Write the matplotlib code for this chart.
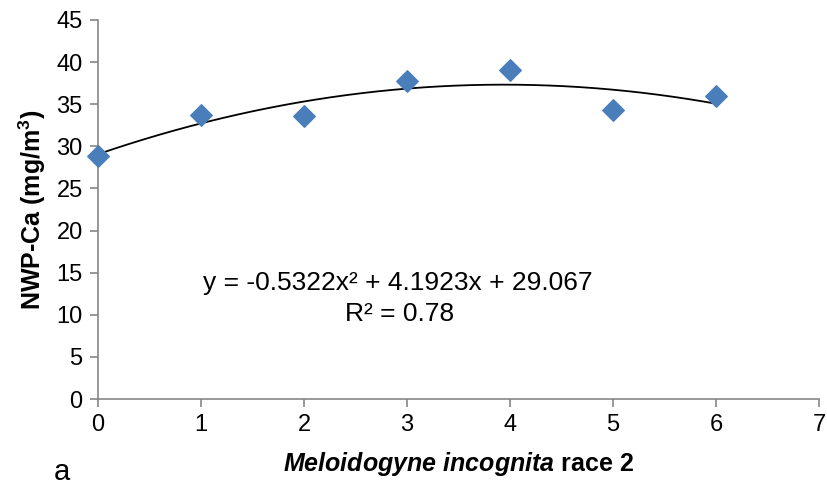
import numpy as np
import matplotlib.pyplot as plt

plt.rcParams['font.family'] = ['Liberation Sans', 'DejaVu Sans']
plt.rcParams['mathtext.fontset'] = 'custom'
plt.rcParams['mathtext.rm'] = 'Liberation Sans'
plt.rcParams['mathtext.it'] = 'Liberation Sans:italic'
plt.rcParams['mathtext.bf'] = 'Liberation Sans:bold'
plt.rcParams['mathtext.bfit'] = 'Liberation Sans:bold:italic'

# data
race_level = [0, 1, 2, 3, 4, 5, 6]
nwp_ca = [28.9, 33.7, 33.6, 37.7, 39.1, 34.3, 36.0]
# trendline coefficients as printed on the chart
trend_coef = [-0.5322, 4.1923, 29.067]
eq_text = 'y = -0.5322x² + 4.1923x + 29.067'
r2_text = 'R² = 0.78'

fig = plt.figure(figsize=(8.27, 4.92), dpi=100)
ax = fig.add_axes([98/827, 93/492, 721/827, 379/492])

xs = np.linspace(min(race_level), max(race_level), 200)
ax.plot(xs, np.polyval(trend_coef, xs), color='black', lw=1.3, zorder=2)
ax.scatter(race_level, nwp_ca, marker='D', s=120, color='#4a7ebb',
           edgecolors='#4a7ebb', zorder=3, clip_on=False)

ax.set_xlim(0, 7)
ax.set_ylim(0, 45)
ax.set_xticks(range(0, 8))
ax.set_yticks(range(0, 46, 5))
for s in ['top', 'right']:
    ax.spines[s].set_visible(False)
for s in ['left', 'bottom']:
    ax.spines[s].set_color('#868686')
    ax.spines[s].set_linewidth(1.2)
ax.tick_params(direction='out', length=6, color='#868686', width=1.2,
               labelsize=17, pad=5)

ax.set_ylabel(r'NWP-Ca (mg/m$\mathbf{^3}$)', fontsize=18, fontweight='bold',
              labelpad=6)
ax.set_xlabel(r'$\mathbfit{Meloidogyne\ incognita}$ race 2', fontsize=18,
              fontweight='bold', labelpad=10)

fig.text(398/827, 1 - 283/492, eq_text, fontsize=19, ha='center', va='center')
fig.text(400/827, 1 - 314/492, r2_text, fontsize=19, ha='center', va='center')
fig.text(62/827, 1 - 472/492, 'a', fontsize=21, ha='center', va='center')

fig.savefig('out.png', dpi=100)
